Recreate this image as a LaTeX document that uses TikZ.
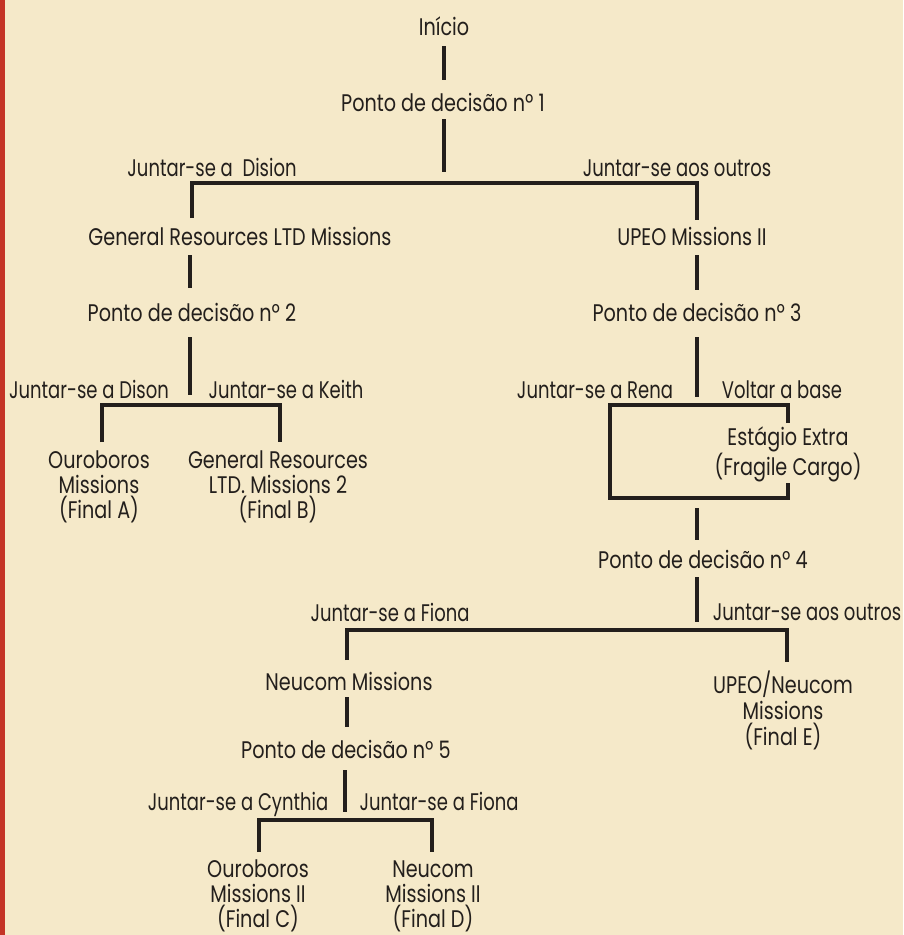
\documentclass[tikz,border=0pt]{standalone}
\usepackage{fontspec}
\setmainfont{Poppins}[FakeStretch=0.8]
\newfontfamily\branchfont{Poppins}[FakeStretch=0.75]
\definecolor{paper}{RGB}{245,233,201}
\definecolor{redstrip}{RGB}{196,52,38}
\definecolor{ink}{RGB}{35,31,28}
\begin{document}
\begin{tikzpicture}[x=1pt,y=-1pt,
  txt/.style={inner sep=0pt, anchor=base, text=ink, font=\fontsize{24}{25}\selectfont},
  branch/.style={inner sep=0pt, anchor=base, text=ink, font=\branchfont\fontsize{24}{25}\selectfont},
  multi/.style={inner sep=0pt, anchor=center, text=ink, align=center, font=\fontsize{24}{25}\selectfont},
  conn/.style={line width=3.3pt, draw=ink, line cap=butt, line join=miter}]
\fill[paper] (0,0) rectangle (903,935);
\fill[redstrip] (0,0) rectangle (5,935);
\useasboundingbox (0,0) rectangle (903,935);

% texts
\node[txt] (inicio) at (444,35) {Início};
\node[txt] (pd1) at (443,111) {Ponto de decisão nº 1};
\node[branch] (jdision) at (212,176) {Juntar-se a\ \ Dision};
\node[branch] (joutros) at (677,176) {Juntar-se aos outros};
\node[txt] (grltd) at (240,245) {General Resources LTD Missions};
\node[txt] (upeo) at (692,245) {UPEO Missions II};
\node[txt] (pd2) at (192,321) {Ponto de decisão nº 2};
\node[txt] (pd3) at (697,321) {Ponto de decisão nº 3};
\node[branch] (jdison) at (89,398) {Juntar-se a Dison};
\node[branch] (jkeith) at (286,398) {Juntar-se a Keith};
\node[branch] (jrena) at (595,398) {Juntar-se a Rena};
\node[branch] (voltar) at (782,398) {Voltar a base};
\node[multi] (fa) at (99,487) {Ouroboros\\Missions\\(Final A)};
\node[multi] (fb) at (278,487) {General Resources\\LTD. Missions 2\\(Final B)};
\node[multi, font=\fontsize{24}{28}\selectfont] (extra) at (788,454) {Estágio Extra\\(Fragile Cargo)};
\node[txt] (pd4) at (703,568) {Ponto de decisão nº 4};
\node[branch] (jfiona) at (390,621) {Juntar-se a Fiona};
\node[branch] (joutros2) at (807,620) {Juntar-se aos outros};
\node[txt] (neucom) at (349,690) {Neucom Missions};
\node[multi, font=\fontsize{24}{26}\selectfont] (fe) at (783,710) {UPEO/Neucom\\Missions\\(Final E)};
\node[txt] (pd5) at (346,758) {Ponto de decisão nº 5};
\node[branch] (jcynthia) at (238,810) {Juntar-se a Cynthia};
\node[branch] (jfiona2) at (439,810) {Juntar-se a Fiona};
\node[multi] (fc) at (258,896) {Ouroboros\\Missions II\\(Final C)};
\node[multi] (fd) at (433,896) {Neucom\\Missions II\\(Final D)};

% connector ends
\coordinate (a1) at (444,46);  \coordinate (a2) at (444,80);
\coordinate (b1) at (444,119); \coordinate (b2) at (444,172);
\coordinate (c1) at (192,218); \coordinate (c2) at (192,183);
\coordinate (c3) at (697,183); \coordinate (c4) at (697,220);
\coordinate (d1) at (190,255); \coordinate (d2) at (190,288);
\coordinate (e1) at (190,337); \coordinate (e2) at (190,395);
\coordinate (f1) at (102,442); \coordinate (f2) at (102,405);
\coordinate (f3) at (280,405); \coordinate (f4) at (280,442);
\coordinate (g1) at (697,255); \coordinate (g2) at (697,290);
\coordinate (h1) at (697,337); \coordinate (h2) at (697,397);
\coordinate (k1) at (788,423); \coordinate (k2) at (788,405);
\coordinate (k3) at (610,405); \coordinate (k4) at (610,498);
\coordinate (k5) at (788,498); \coordinate (k6) at (788,483);
\coordinate (m1) at (697,508); \coordinate (m2) at (697,540);
\coordinate (n1) at (697,577); \coordinate (n2) at (697,622);
\coordinate (p1) at (347,660); \coordinate (p2) at (347,630);
\coordinate (p3) at (787,630); \coordinate (p4) at (787,662);
\coordinate (q1) at (347,697); \coordinate (q2) at (347,727);
\coordinate (r1) at (345,770); \coordinate (r2) at (345,812);
\coordinate (s1) at (259,852); \coordinate (s2) at (259,820);
\coordinate (s3) at (432,820); \coordinate (s4) at (432,852);

\draw[conn] (a1) -- (a2);
\draw[conn] (b1) -- (b2);
\draw[conn] (c1) -- (c2) -- (c3) -- (c4);
\draw[conn] (d1) -- (d2);
\draw[conn] (e1) -- (e2);
\draw[conn] (f1) -- (f2) -- (f3) -- (f4);
\draw[conn] (g1) -- (g2);
\draw[conn] (h1) -- (h2);
\draw[conn] (k1) -- (k2) -- (k3) -- (k4) -- (k5) -- (k6);
\draw[conn] (m1) -- (m2);
\draw[conn] (n1) -- (n2);
\draw[conn] (p1) -- (p2) -- (p3) -- (p4);
\draw[conn] (q1) -- (q2);
\draw[conn] (r1) -- (r2);
\draw[conn] (s1) -- (s2) -- (s3) -- (s4);
\end{tikzpicture}
\end{document}
